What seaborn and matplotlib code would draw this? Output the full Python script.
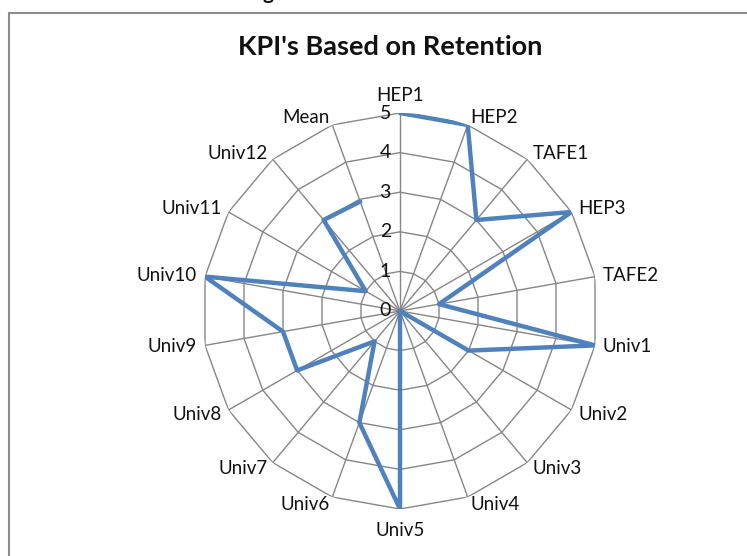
import numpy as np
import pandas as pd
import matplotlib
matplotlib.use("Agg")
import matplotlib.pyplot as plt
from matplotlib.lines import Line2D
import seaborn as sns

categories = ["HEP1", "HEP2", "TAFE1", "HEP3", "TAFE2", "Univ1", "Univ2", "Univ3",
              "Univ4", "Univ5", "Univ6", "Univ7", "Univ8", "Univ9", "Univ10",
              "Univ11", "Univ12", "Mean"]
values = [5, 5, 3, 5, 1, 5, 2, 0, 0, 5, 3, 1, 3, 3, 5, 1, 3, 2.94]
rticks = [0, 1, 2, 3, 4, 5]
title = "KPI's Based on Retention"

sns.set_theme(style="white")
plt.rcParams['font.family'] = ['Lato', 'DejaVu Sans']

W, H = 747, 556
fig = plt.figure(figsize=(W / 100, H / 100), dpi=100)
cx, cy, R = 400, 311, 198
ax = fig.add_axes([(cx - R) / W, (H - cy - R) / H, 2 * R / W, 2 * R / H], projection="polar")
ax.set_theta_offset(np.pi / 2)
ax.set_theta_direction(-1)
ax.set_ylim(0, max(rticks))
ax.grid(False)
ax.set_xticks([])
ax.set_yticks([])
ax.spines["polar"].set_visible(False)
ax.patch.set_alpha(0)

n = len(categories)
theta = np.arange(n) * 2 * np.pi / n
grid_col = "#868686"

# polygon rings
th_closed = np.append(theta, theta[0])
for r in rticks[1:]:
    ax.plot(th_closed, [r] * (n + 1), color=grid_col, lw=1.0, zorder=1)
# spokes
for t in theta:
    ax.plot([t, t], [0, max(rticks)], color=grid_col, lw=1.0, zorder=1)

df = pd.DataFrame({"theta": np.append(theta, theta[0]), "value": values + [values[0]]})
sns.lineplot(data=df, x="theta", y="value", sort=False, ax=ax, color="#4F81BD", lw=3.2, zorder=3)
ax.set_xlabel("")
ax.set_ylabel("")

# category labels
for t, lab in zip(theta, categories):
    s, c = np.sin(t), np.cos(t)
    if abs(s) < 0.1:
        ha = "center"
        va = "bottom" if c > 0 else "top"
        off = (0, 9 if c > 0 else -13)
    else:
        ha = "left" if s > 0 else "right"
        va = "center"
        off = (8 * s, 8 * c)
    ax.annotate(lab, xy=(t, max(rticks)), xytext=off, textcoords="offset pixels",
                ha=ha, va=va, fontsize=13.5, color="#111111", annotation_clip=False)

# radial tick labels
for r in rticks:
    ax.annotate(str(r), xy=(0, r), xytext=(-9, 0), textcoords="offset pixels",
                ha="right", va="center", fontsize=14, color="#111111", annotation_clip=False)

fig.text(390 / W, 1 - 47 / H, title, ha="center", va="center", fontsize=19.5,
         fontweight="bold", color="#111111")
fig.text(268 / W, 1 + 1 / H, "g", ha="center", va="baseline", fontsize=15,
         fontweight="bold", color="#111111")

fig.add_artist(Line2D([8.5 / W, 8.5 / W], [0, 1 - 12.5 / H], transform=fig.transFigure,
                      color="#8c8c8c", lw=1.5))
fig.add_artist(Line2D([8.5 / W, 1], [1 - 12.5 / H, 1 - 12.5 / H], transform=fig.transFigure,
                      color="#8c8c8c", lw=1.5))

fig.savefig("out.png", dpi=100)
